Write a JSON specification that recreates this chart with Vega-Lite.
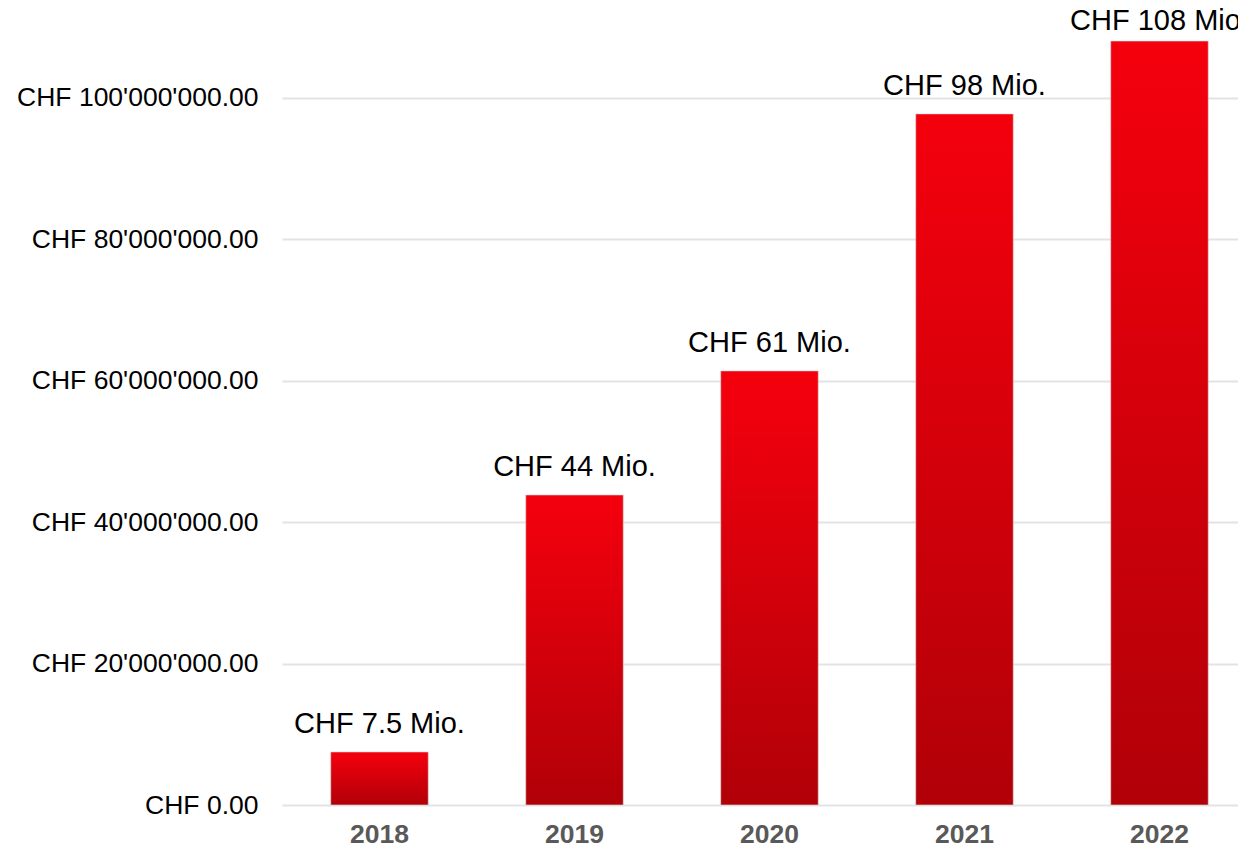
{
  "$schema": "https://vega.github.io/schema/vega-lite/v6.json",
  "autosize": {"type": "none"},
  "width": 956,
  "height": 805,
  "padding": {"left": 282, "top": 0, "right": 0, "bottom": 48},
  "background": "white",
  "config": {"view": {"stroke": null}, "font": "Liberation Sans"},
  "data": {"values": [
    {"year": "2018", "value": 7500000, "label": "CHF 7.5 Mio."},
    {"year": "2019", "value": 43850000, "label": "CHF 44 Mio."},
    {"year": "2020", "value": 61400000, "label": "CHF 61 Mio."},
    {"year": "2021", "value": 97750000, "label": "CHF 98 Mio."},
    {"year": "2022", "value": 108050000, "label": "CHF 108 Mio."}
  ]},
  "encoding": {
    "x": {
      "field": "year", "type": "nominal",
      "scale": {"paddingInner": 0.5, "paddingOuter": 0.2013, "align": 0.621},
      "axis": {"title": null, "labelAngle": 0, "domain": false, "ticks": false, "grid": false,
        "labelFont": "Liberation Sans", "labelFontSize": 26.5, "labelFontWeight": "bold",
        "labelColor": "#595959", "labelPadding": 16}
    },
    "y": {
      "field": "value", "type": "quantitative",
      "scale": {"domain": [0, 113860000], "nice": false, "zero": true},
      "axis": {"title": null, "values": [0, 20000000, 40000000, 60000000, 80000000, 100000000],
        "domain": false, "ticks": false, "grid": true, "gridColor": "#e3e3e3", "gridWidth": 2,
        "labelFont": "Liberation Sans", "labelFontSize": 26.5, "labelColor": "#000000", "labelPadding": 24,
        "labelLimit": 0,
        "labelExpr": "'CHF ' + replace(format(datum.value, ',.2f'), regexp(',', 'g'), \"'\")"}
    }
  },
  "layer": [
    {
      "mark": {"type": "bar",
        "color": {"gradient": "linear", "x1": 0, "y1": 0, "x2": 0, "y2": 1,
          "stops": [{"offset": 0, "color": "#f5000d"}, {"offset": 1, "color": "#b10008"}]},
        "stroke": "#d8d8d8", "strokeWidth": 1, "strokeOpacity": 0.6}
    },
    {
      "transform": [{"filter": "datum.year != '2022'"}],
      "mark": {"type": "text", "baseline": "alphabetic", "dy": -19, "font": "Liberation Sans", "fontSize": 29, "color": "#000000"},
      "encoding": {"text": {"field": "label"}}
    },
    {
      "transform": [{"filter": "datum.year == '2022'"}],
      "mark": {"type": "text", "baseline": "alphabetic", "dy": -11, "font": "Liberation Sans", "fontSize": 29, "color": "#000000"},
      "encoding": {"text": {"field": "label"}}
    }
  ]
}
